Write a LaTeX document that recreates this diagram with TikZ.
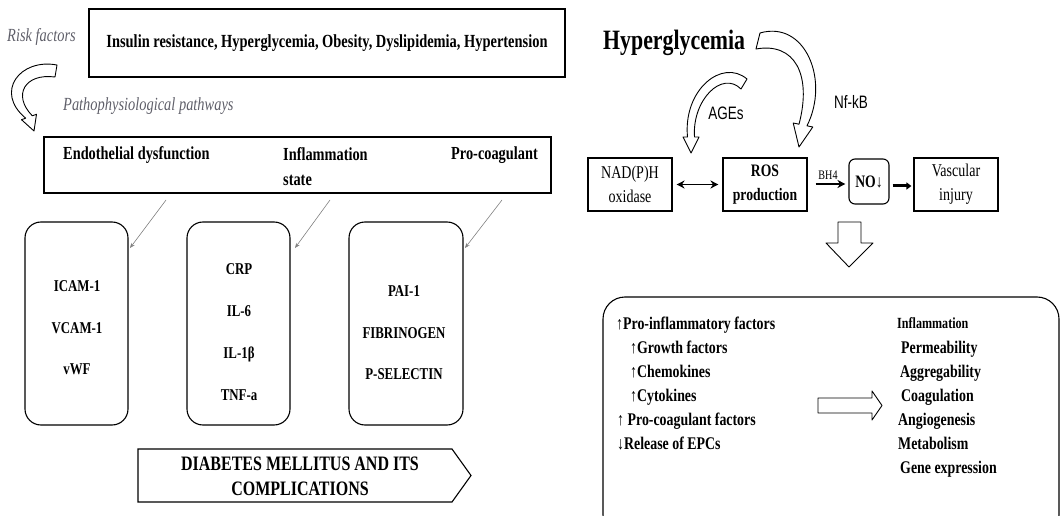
\documentclass[tikz,border=0pt]{standalone}
\usepackage{fontspec}
\setmainfont{Liberation Serif}[FakeStretch=0.78]
\newfontfamily\sansf{Liberation Sans}[FakeStretch=0.75]
\usetikzlibrary{arrows.meta}
\definecolor{itgray}{RGB}{95,95,105}
\begin{document}
\begin{tikzpicture}[x=1pt,y=-1pt,
  bt/.style={font=\fontsize{18.4}{20}\selectfont\bfseries, inner sep=0pt},
  it/.style={font=\fontsize{18.5}{20}\selectfont\itshape, text=itgray, inner sep=0pt},
  boxline/.style={draw=black, line width=1.1pt},
  rbox/.style={draw=black, line width=1.1pt, rounded corners=16pt},
  hollow/.style={draw=black, line width=0.9pt, fill=white, line join=round},
  thin/.style={draw=gray, line width=0.6pt, -{Stealth[length=5pt,width=4pt]}},
  lst/.style={font=\fontsize{17.8}{20}\selectfont\bfseries, inner sep=0pt, anchor=base west},
  sanslab/.style={font=\sansf\fontsize{18}{20}\selectfont, inner sep=0pt}
]
\useasboundingbox (0,0) rectangle (1061,516);

% ---------- LEFT PART ----------
\node[it, anchor=west] (risk) at (7,37) {Risk factors};
\node[boxline, minimum width=476pt, minimum height=68pt] (rf) at (327,43) {};
\node[bt, font=\fontsize{18.5}{20}\selectfont\bfseries] (rft) at (rf.center) {Insulin resistance, Hyperglycemia, Obesity, Dyslipidemia, Hypertension};

% curved hollow arrow (risk -> pathways)
\draw[hollow] (57,65) .. controls (20,58) and (-6,92) .. (25.7,118.2)
  -- (21.5,119.7) -- (34,131) -- (36.5,114.3) -- (32.3,115.8)
  .. controls (12,95) and (25,73) .. (55,77) -- cycle;

\node[it, anchor=west] (path) at (63,106) {Pathophysiological pathways};

\node[boxline, minimum width=507pt, minimum height=56pt] (pp) at (297.5,165) {};
\node[bt, anchor=west] (endo) at (63,155) {Endothelial dysfunction};
\node[bt, anchor=west, align=left, font=\fontsize{18.4}{25}\selectfont\bfseries] (infl) at (283,167) {Inflammation\\state};
\node[bt, anchor=east] (proc) at (538,155) {Pro-coagulant};

% rounded boxes
\node[rbox, minimum width=103pt, minimum height=203pt] (ba) at (76.5,323.5) {};
\node[rbox, minimum width=103pt, minimum height=203pt] (bb) at (238.5,323.5) {};
\node[rbox, minimum width=114pt, minimum height=203pt] (bc) at (406,323.5) {};

\node[bt, align=center, font=\fontsize{16.5}{41.5}\selectfont\bfseries] (ta) at (77,328) {ICAM-1\\VCAM-1\\vWF};
\node[bt, align=center, font=\fontsize{16.5}{42}\selectfont\bfseries] (tb) at (239,332) {CRP\\IL-6\\IL-1β\\TNF-a};
\node[bt, align=center, font=\fontsize{16.5}{41.5}\selectfont\bfseries] (tc) at (404,333) {PAI-1\\FIBRINOGEN\\P-SELECTIN};

% thin arrows
\coordinate (s1) at (166,200);
\coordinate (e1) at (130,248);
\coordinate (s2) at (330,200);
\coordinate (e2) at (295,248);
\coordinate (s3) at (502,200);
\coordinate (e3) at (465,248);
\draw[thin] (s1) -- (e1);
\draw[thin] (s2) -- (e2);
\draw[thin] (s3) -- (e3);

% pentagon arrow
\node[bt, align=center, font=\fontsize{20.5}{25}\selectfont\bfseries] (dm) at (300,476.5) {DIABETES MELLITUS AND ITS\\COMPLICATIONS};
\draw[boxline] (138,449) -- (452,449) -- (471,475.5) -- (452,502) -- (138,502) -- cycle;

% ---------- RIGHT PART ----------
\node[bt, anchor=west, font=\fontsize{28}{30}\selectfont\bfseries] (hyp) at (603,43) {Hyperglycemia};

% Nf-kB hollow arrow
\draw[hollow] (760,33) .. controls (805,20) and (830,80) .. (807,125.8)
  -- (812.8,127) -- (799,147) -- (793.2,123) -- (799,124.2)
  .. controls (812,75) and (795,42) .. (756,49) -- cycle;
% AGEs hollow arrow
\draw[hollow] (747,79) .. controls (722,58) and (683,90) .. (687.5,137)
  -- (683,137) -- (691,153) -- (699,137) -- (694.5,137)
  .. controls (692,100) and (722,70) .. (741,89) -- cycle;

\node[sanslab] (ages) at (726,113) {AGEs};
\node[sanslab] (nfkb) at (851,102) {Nf-kB};

\node[boxline, minimum width=84pt, minimum height=53pt, align=center, inner sep=0pt,
      font=\fontsize{18}{24}\selectfont] (nad) at (630,184.5) {NAD(P)H\\oxidase};
\node[boxline, minimum width=84pt, minimum height=53pt, align=center, inner sep=0pt,
      font=\fontsize{17.5}{24}\selectfont\bfseries] (ros) at (765,184.5) {ROS\\production};
\node[boxline, rounded corners=6pt, minimum width=40pt, minimum height=45pt, inner sep=0pt,
      font=\fontsize{17.5}{20}\selectfont\bfseries] (no) at (869,181.5) {NO↓};
\node[boxline, minimum width=84pt, minimum height=53pt, align=center, inner sep=0pt,
      font=\fontsize{18}{24}\selectfont] (vi) at (956,184.5) {Vascular\\injury};

\draw[line width=1.8pt, {Stealth[length=8pt,width=8pt]}-{Stealth[length=8pt,width=8pt]}] ([xshift=4pt]nad.east) -- ([xshift=-4pt]ros.west);
\draw[line width=1.6pt, -{Stealth[length=8pt,width=8pt]}, shorten <=8pt, shorten >=3pt] (ros.east |- 0,184) -- (no.west |- 0,184)
  node[midway, above=4pt, font=\fontsize{13}{14}\selectfont, inner sep=0pt] (bh4) {BH4};
\draw[line width=3pt, -{Triangle[length=5pt,width=7pt]}, shorten <=3pt, shorten >=2pt] (no.east |- 0,186) -- (vi.west |- 0,186);

% down hollow arrow
\draw[hollow] (838,222) -- (861,222) -- (861,243) -- (873,243) -- (849,267) -- (826,243) -- (838,243) -- cycle;

% big bottom box
\node[rbox, rounded corners=22pt, minimum width=456pt, minimum height=240pt] (big) at (831,417) {};

\node[lst] (l1) at (616,329) {↑Pro-inflammatory factors};
\node[lst] (l2) at (630,353) {↑Growth factors};
\node[lst] (l3) at (630,377) {↑Chemokines};
\node[lst] (l4) at (630,401) {↑Cytokines};
\node[lst] (l5) at (617,425) {↑ Pro-coagulant factors};
\node[lst] (l6) at (617,449) {↓Release of EPCs};

% right hollow arrow
\draw[hollow] (818,398) -- (872,398) -- (872,391) -- (882,405.5) -- (872,420) -- (872,413) -- (818,413) -- cycle;

\node[lst, font=\fontsize{15.5}{17}\selectfont\bfseries] (r0) at (897,328) {Inflammation};
\node[lst] (r1) at (901,353) {Permeability};
\node[lst] (r2) at (900,377) {Aggregability};
\node[lst] (r3) at (901,401) {Coagulation};
\node[lst] (r4) at (898,425) {Angiogenesis};
\node[lst] (r5) at (898,449) {Metabolism};
\node[lst] (r6) at (900,473) {Gene expression};
\end{tikzpicture}
\end{document}
